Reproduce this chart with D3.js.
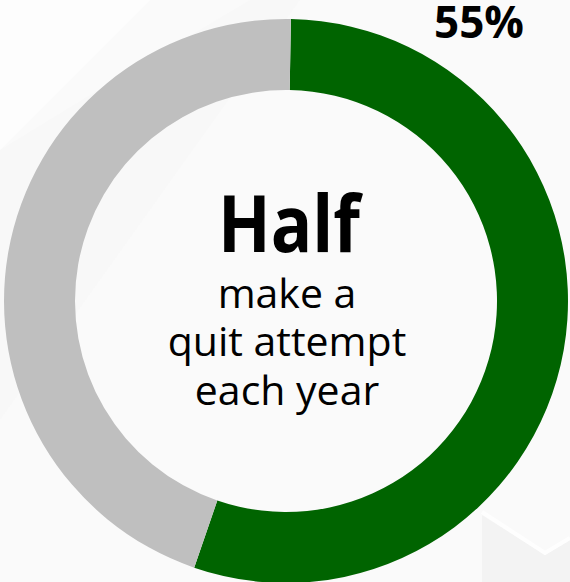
<!DOCTYPE html>
<html>
<head>
<meta charset="utf-8">
<script src="https://cdn.jsdelivr.net/npm/d3@7"></script>
<style>
  html, body { margin: 0; padding: 0; background: #fafafa; }
  svg { display: block; }
</style>
</head>
<body>
<svg id="chart" width="570" height="582"></svg>
<script>
// Share of smokers who make a quit attempt each year
const categories = ["Quit attempt", "No attempt"];
const values = [55, 45];
const colors = ["#006400", "#bfbfbf"];
const valueLabel = "55%";
const headline = "Half";
const subLines = ["make a", "quit attempt", "each year"];

const width = 570, height = 582;
const cx = 286, cy = 301;
const outerR = 282, innerR = 211;

const svg = d3.select("#chart");

// soft faceted backdrop
const bg = svg.append("g");
bg.append("rect").attr("width", width).attr("height", height).attr("fill", "#fafafa");
bg.append("polygon")
  .attr("points", "0,0 150,0 0,150")
  .attr("fill", "#fdfdfd");
bg.append("polygon")
  .attr("points", "0,150 90,95 250,0 300,0 0,420")
  .attr("fill", "#f8f8f8");
bg.append("polygon")
  .attr("points", "482,515 545,555 570,540 570,582 482,582")
  .attr("fill", "#f3f3f3");
bg.append("polyline")
  .attr("points", "482,512 545,553 570,538")
  .attr("fill", "none").attr("stroke", "#fefefe").attr("stroke-width", 4);

// donut ring, first slice starting just past twelve o'clock
const offset = Math.PI / 180;
const pie = d3.pie().sort(null).value(d => d)
  .startAngle(offset).endAngle(2 * Math.PI + offset);
const arc = d3.arc().innerRadius(innerR).outerRadius(outerR);

svg.append("g")
  .attr("transform", `translate(${cx},${cy})`)
  .selectAll("path")
  .data(pie(values))
  .join("path")
  .attr("d", arc)
  .attr("fill", (d, i) => colors[i]);

// value label above the ring
svg.append("text")
  .attr("x", 479).attr("y", 38)
  .attr("text-anchor", "middle")
  .attr("font-family", "'Open Sans', sans-serif")
  .attr("font-weight", 700)
  .attr("font-size", 44)
  .attr("fill", "#000")
  .text(valueLabel);

// centre caption
svg.append("text")
  .attr("x", 289).attr("y", 252)
  .attr("text-anchor", "middle")
  .attr("font-family", "'Open Sans', sans-serif")
  .attr("font-weight", 700)
  .attr("font-size", 78)
  .attr("textLength", 142).attr("lengthAdjust", "spacingAndGlyphs")
  .attr("fill", "#000")
  .text(headline);

const baselines = [308, 356, 405];
svg.append("g").selectAll("text")
  .data(subLines)
  .join("text")
  .attr("x", 287)
  .attr("y", (d, i) => baselines[i])
  .attr("text-anchor", "middle")
  .attr("font-family", "'Open Sans', sans-serif")
  .attr("font-size", 41)
  .attr("fill", "#000")
  .text(d => d);
</script>
</body>
</html>
